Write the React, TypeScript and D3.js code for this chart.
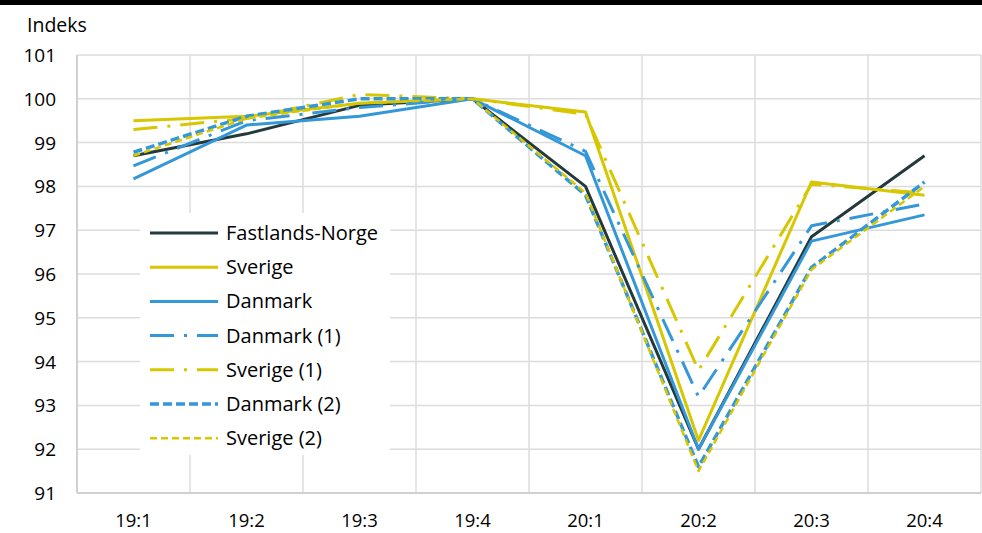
import React from "react";
import * as d3 from "d3";

const categories = ["19:1", "19:2", "19:3", "19:4", "20:1", "20:2", "20:3", "20:4"];
const yTicks = [91, 92, 93, 94, 95, 96, 97, 98, 99, 100, 101];

const norge = [98.7, 99.2, 99.85, 100, 98.0, 92.0, 96.85, 98.7];
const sverige = [99.5, 99.6, 99.9, 100, 99.7, 92.2, 98.1, 97.8];
const danmark = [98.17, 99.4, 99.6, 100, 98.7, 92.0, 96.75, 97.35];
const danmark1 = [98.47, 99.5, 99.8, 100, 98.8, 93.2, 97.1, 97.6];
const sverige1 = [99.3, 99.55, 100.1, 100, 99.65, 93.8, 98.05, 97.85];
const danmark2 = [98.78, 99.6, 100.0, 100, 97.8, 91.6, 96.15, 98.1];
const sverige2 = [98.7, 99.55, 99.9, 100, 97.85, 91.5, 96.1, 98.0];

const DARK = "#24393b";
const YEL = "#d6c700";
const BLUE = "#3498d8";

const series = [
  { name: "Fastlands-Norge", values: norge, color: DARK, dash: "", w: 3 },
  { name: "Sverige", values: sverige, color: YEL, dash: "", w: 3 },
  { name: "Danmark", values: danmark, color: BLUE, dash: "", w: 3 },
  { name: "Danmark (1)", values: danmark1, color: BLUE, dash: "24,10,3,10", w: 3 },
  { name: "Sverige (1)", values: sverige1, color: YEL, dash: "24,10,3,10", w: 3 },
  { name: "Danmark (2)", values: danmark2, color: BLUE, dash: "9,4", w: 3.5 },
  { name: "Sverige (2)", values: sverige2, color: YEL, dash: "7,4", w: 2.5 },
];

export default function App() {
  const W = 982, H = 533;
  const left = 77, right = 981, top = 55, bottom = 493;
  const x = d3.scaleBand<string>().domain(categories).range([left, right]);
  const y = d3.scaleLinear().domain([91, 101]).range([bottom, top]);
  const line = d3
    .line<number>()
    .x((_, i) => (x(categories[i]) as number) + x.bandwidth() / 2)
    .y((v) => y(v));
  const font = "'Open Sans', sans-serif";
  const legX = 150, legY = 233, legStep = 34.2;
  return (
    <svg width={W} height={H} style={{ position: "absolute", left: 0, top: 0, background: "#fff" }} fontFamily={font}>
      <rect x={0} y={0} width={W} height={H} fill="#fff" />
      <rect x={0} y={0} width={W} height={5} fill="#000" />
      <text x={27} y={32} fontSize={19.5} fill="#000">Indeks</text>
      {yTicks.map((t) => (
        <g key={t}>
          <line x1={left} x2={right} y1={y(t)} y2={y(t)} stroke="#dcdcdc" strokeWidth={1.5} />
          <text x={56} y={y(t) + 7} fontSize={19} textAnchor="end" fill="#000">{t}</text>
        </g>
      ))}
      {categories.map((c) => (
        <g key={c}>
          <line x1={x(c) as number} x2={x(c) as number} y1={top} y2={bottom} stroke="#dcdcdc" strokeWidth={1.5} />
          <text x={(x(c) as number) + x.bandwidth() / 2} y={527} fontSize={18.5} textAnchor="middle" fill="#000">{c}</text>
        </g>
      ))}
      <line x1={right} x2={right} y1={top} y2={bottom} stroke="#dcdcdc" strokeWidth={1.5} />
      <line x1={left} x2={right} y1={bottom} y2={bottom} stroke="#d0d0d0" strokeWidth={2} />
      <line x1={left} x2={left} y1={top} y2={bottom} stroke="#d0d0d0" strokeWidth={2} />
      <rect x={140} y={213} width={250} height={242} fill="#fff" />
      {series.map((s) => (
        <path key={s.name} d={line(s.values) || ""} fill="none" stroke={s.color} strokeWidth={s.w} strokeDasharray={s.dash || undefined} strokeLinejoin="round" />
      ))}
      {series.map((s, i) => (
        <g key={s.name} transform={`translate(0,${legY + i * legStep})`}>
          <line x1={legX} x2={legX + 68} y1={0} y2={0} stroke={s.color} strokeWidth={s.w} strokeDasharray={s.dash || undefined} />
          <text x={legX + 76} y={7} fontSize={20} fill="#000">{s.name}</text>
        </g>
      ))}
    </svg>
  );
}
